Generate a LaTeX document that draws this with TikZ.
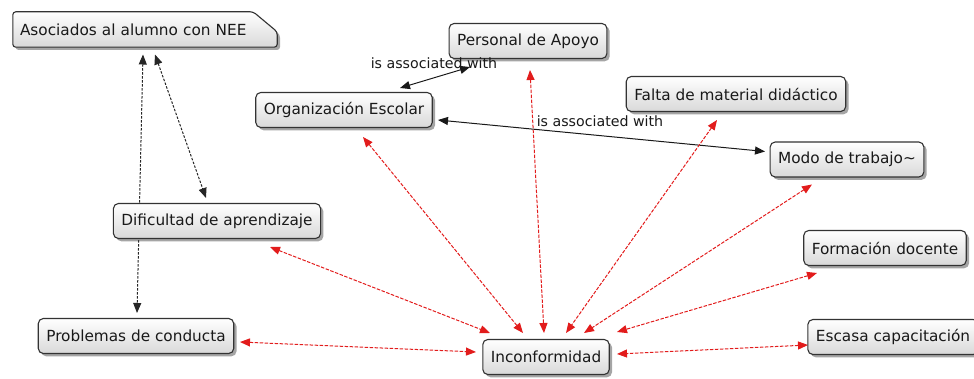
\documentclass[tikz,border=0pt]{standalone}
\usepackage{fontspec}
\setmainfont{DejaVu Sans}
\usetikzlibrary{arrows.meta,shadows,calc}
\pgfdeclarelayer{edges}
\pgfdeclarelayer{boxbg}
\pgfsetlayers{edges,boxbg,main}
\definecolor{linkred}{RGB}{226,28,28}
\begin{document}
\begin{tikzpicture}[x=1pt,y=-1pt,
  boxlook/.style={draw=black!80, line width=1.1pt, top color=white, bottom color=black!15,
    drop shadow={shadow xshift=2.8pt, shadow yshift=-2.8pt, fill=black!70}},
  concept/.style={boxlook, rounded corners=5pt, minimum height=35pt, inner xsep=8pt,
    font=\fontsize{15.3}{18}\selectfont, text=black!90},
  asotext/.style={minimum width=264pt, minimum height=35pt, text width=250pt, align=left,
    inner xsep=7pt, font=\fontsize{15.3}{18}\selectfont, text=black!90},
  lbl/.style={font=\fontsize{14.2}{17}\selectfont, text=black!90, inner sep=1pt},
  redlink/.style={draw=linkred, line width=1pt, dash pattern=on 3.5pt off 1.5pt,
    {Triangle[length=10pt,width=8pt]}-{Triangle[length=10pt,width=8pt]}},
  blacklink/.style={draw=black!90, line width=1pt,
    {Triangle[length=10pt,width=8pt]}-{Triangle[length=10pt,width=8pt]}},
  dashlink/.style={draw=black!85, line width=1pt, dash pattern=on 2.5pt off 1.5pt,
    {Triangle[length=10pt,width=8pt]}-{Triangle[length=10pt,width=8pt]}}
]
\useasboundingbox (0,0) rectangle (974,379);

% nodes
\node[asotext] (aso) at (145,29.5) {Asociados al alumno con NEE};
\begin{pgfonlayer}{boxbg}
  \path[boxlook, rounded corners=3pt] (aso.north west) -- ([xshift=-24pt]aso.north east)
    -- ([yshift=-20pt]aso.north east) -- (aso.south east) -- (aso.south west) -- cycle;
\end{pgfonlayer}
\node[concept] (per) at (528,41) {Personal de Apoyo};
\node[concept] (org) at (344,110) {Organización Escolar};
\node[concept] (fal) at (736,94) {Falta de material didáctico};
\node[concept] (mod) at (847,159.5) {Modo de trabajo\textasciitilde};
\node[concept] (dif) at (217,221) {Dificultad de aprendizaje};
\node[concept] (for) at (885,248) {Formación docente};
\node[concept] (pro) at (136,336) {Problemas de conducta};
\node[concept] (inc) at (546,357) {Inconformidad};
\node[concept] (esc) at (893,337) {Escasa capacitación};

\node[lbl] (l1) at (434,63) {is associated with};
\node[lbl] (l2) at (600,121) {is associated with};

% connectors
\begin{pgfonlayer}{edges}
  \draw[blacklink] ($(org)+(56,-22)$) -- ($(per)+(-58,26)$);
  \draw[blacklink] ($(org)+(94,10)$) -- ($(mod)+(-82,-8)$);
  \draw[dashlink] ($(aso)+(10,25)$) -- ($(dif)+(-11,-23)$);
  \draw[dashlink] ($(aso)+(-2,25)$) -- ($(pro)+(1,-23)$);

  \draw[redlink] ($(dif)+(53,26)$) -- ($(inc)+(-56,-24)$);
  \draw[redlink] ($(org)+(19,27)$) -- ($(inc)+(-23,-24)$);
  \draw[redlink] ($(per)+(2,29)$) -- ($(inc)+(-2,-24)$);
  \draw[redlink] ($(fal)+(-19,26)$) -- ($(inc)+(20,-24)$);
  \draw[redlink] ($(mod)+(-35,25)$) -- ($(inc)+(38,-24)$);
  \draw[redlink] ($(for)+(-68,25)$) -- ($(inc)+(71,-25)$);
  \draw[redlink] ($(esc)+(-85,8)$) -- ($(inc)+(71,-3)$);
  \draw[redlink] ($(pro)+(104,6)$) -- ($(inc)+(-70,-5)$);
\end{pgfonlayer}
\end{tikzpicture}
\end{document}
